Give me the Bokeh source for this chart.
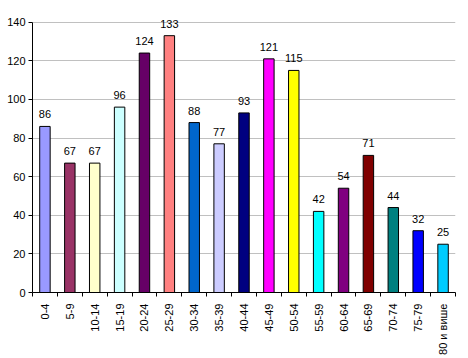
from bokeh.plotting import figure
from bokeh.models import ColumnDataSource, FixedTicker, Range1d
from bokeh.core.properties import value
from bokeh.embed import file_html
from bokeh.resources import INLINE
import math

categories = ["0-4", "5-9", "10-14", "15-19", "20-24", "25-29", "30-34", "35-39",
              "40-44", "45-49", "50-54", "55-59", "60-64", "65-69", "70-74", "75-79", "80 и више"]
values = [86, 67, 67, 96, 124, 133, 88, 77, 93, 121, 115, 42, 54, 71, 44, 32, 25]
colors = ["#9999FF", "#993366", "#FFFFCC", "#CCFFFF", "#660066", "#FF8080", "#0066CC", "#CCCCFF",
          "#000080", "#FF00FF", "#FFFF00", "#00FFFF", "#800080", "#800000", "#008080", "#0000FF", "#00CCFF"]
y_ticks = [0, 20, 40, 60, 80, 100, 120, 140]

n = len(categories)
xs = [i + 0.5 for i in range(n)]
src = ColumnDataSource(dict(x=xs, top=values, color=colors, label=[str(v) for v in values]))

FONT = "Liberation Sans"

p = figure(width=468, height=358, output_backend="svg", toolbar_location=None,
           x_range=Range1d(0, n), y_range=Range1d(0, 145),
           min_border_left=32, min_border_right=13, min_border_top=12, min_border_bottom=66,
           background_fill_color="white", border_fill_color="white")
p.outline_line_color = None

p.vbar(x="x", top="top", width=0.42, bottom=0, fill_color="color", line_color="black",
       line_width=1, source=src)
p.text(x="x", y="top", text="label", source=src, text_align="center", text_baseline="bottom",
       y_offset=-8, text_font=value(FONT), text_font_size="11px", text_color="black")

p.xgrid.grid_line_color = None
p.ygrid.ticker = FixedTicker(ticks=y_ticks[1:])
p.ygrid.grid_line_color = "#C0C0C0"
p.ygrid.grid_line_width = 1

p.yaxis.ticker = FixedTicker(ticks=y_ticks)
p.yaxis.bounds = (0, 140)
p.yaxis.axis_line_color = "black"
p.yaxis.major_tick_line_color = "black"
p.yaxis.major_tick_out = 4
p.yaxis.major_tick_in = 0
p.yaxis.minor_tick_line_color = None
p.yaxis.major_label_text_font = FONT
p.yaxis.major_label_text_font_size = "11px"
p.yaxis.major_label_text_color = "black"
p.yaxis.major_label_standoff = 3

p.xaxis.ticker = FixedTicker(ticks=xs, minor_ticks=list(range(n + 1)))
p.xaxis.major_label_overrides = {x: c for x, c in zip(xs, categories)}
p.xaxis.major_tick_line_color = None
p.xaxis.minor_tick_line_color = "black"
p.xaxis.minor_tick_out = 4
p.xaxis.minor_tick_in = 0
p.xaxis.axis_line_color = "black"
p.xaxis.major_label_orientation = math.pi / 2
p.xaxis.major_label_text_font = FONT
p.xaxis.major_label_text_font_size = "11px"
p.xaxis.major_label_text_color = "black"
p.xaxis.major_label_standoff = 5

open("out.html", "w").write(file_html(p, INLINE))
